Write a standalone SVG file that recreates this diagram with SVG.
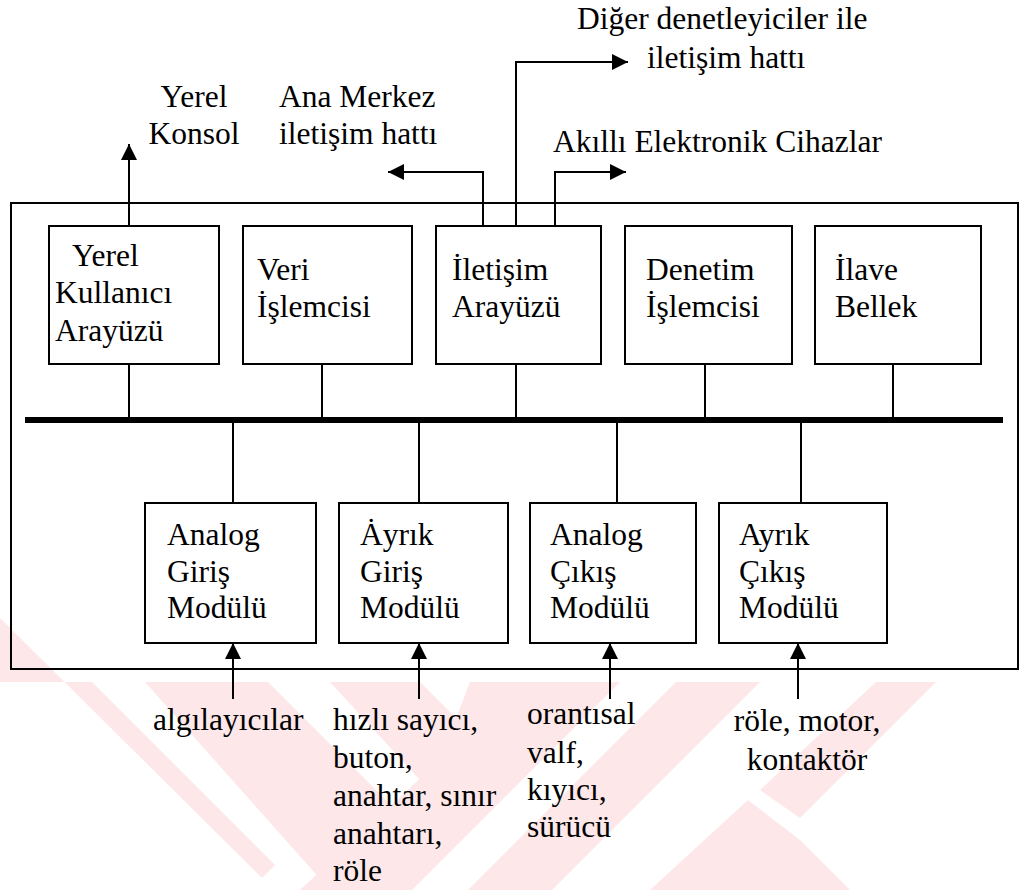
<svg xmlns="http://www.w3.org/2000/svg" width="1034" height="890" viewBox="0 0 1034 890">
  <defs>
    <marker id="arrow" viewBox="0 0 10 10" refX="10" refY="5" markerUnits="userSpaceOnUse" markerWidth="16" markerHeight="16" orient="auto">
      <path d="M0,0 L10,5 L0,10 z" fill="#000"/>
    </marker>
    <style>
      text { font-family: "Liberation Serif", "Times New Roman", serif; font-size: 31.5px; fill: #000; }
      .box { fill: none; stroke: #000; stroke-width: 2; }
      .wire { fill: none; stroke: #000; stroke-width: 2; }
      .arrow { fill: none; stroke: #000; stroke-width: 2; marker-end: url(#arrow); }
      .mark { fill: #fde7e9; }
    </style>
  </defs>
  <rect width="1034" height="890" fill="#fff"/>

  <!-- background mark -->
  <g id="watermark">
    <polygon class="mark" points="0,682 92,682 275,865 262,878 0,618"/>
    <polygon class="mark" points="145,682 268,682 420,834 390,890 330,890"/>
    <polygon class="mark" points="330,682 420,682 470,732 420,780"/>
    <polygon class="mark" points="470,682 620,682 412,890 300,890 440,760"/>
    <polygon class="mark" points="676,682 760,682 552,890 468,890"/>
    <polygon class="mark" points="876,682 936,682 800,818 760,790"/>
    <polygon class="mark" points="748,800 800,840 850,890 650,890"/>
  </g>

  <!-- enclosure of the controller -->
  <rect id="enclosure" x="11" y="203" width="1007" height="466" class="box"/>

  <g id="connectors">
    <!-- system bus -->
    <line x1="25" y1="420" x2="1003" y2="420" stroke="#000" stroke-width="6"/>
    <!-- upper modules to bus -->
    <path class="wire" d="M129,364 V420 M322,364 V420 M516,364 V420 M705,364 V420 M893,364 V420"/>
    <!-- bus to I/O modules -->
    <path class="wire" d="M233,420 V503 M419,420 V503 M617,420 V503 M801,420 V503"/>
    <!-- external links -->
    <path class="arrow" d="M129,226 V144"/>
    <path class="arrow" d="M483,226 V172 H388"/>
    <path class="arrow" d="M516,226 V62 H628"/>
    <path class="arrow" d="M555,226 V172 H626"/>
    <!-- field devices into I/O modules -->
    <path class="arrow" d="M233,699 V643"/>
    <path class="arrow" d="M419,699 V643"/>
    <path class="arrow" d="M610,699 V643"/>
    <path class="arrow" d="M798,699 V643"/>
  </g>

  <g font-family="'Liberation Serif', 'Times New Roman', serif">
  <g id="node-yerel-kullanici">
    <rect x="49" y="226" width="170" height="138" class="box"/>
    <text x="72" y="266">Yerel</text>
    <text x="55" y="303">Kullanıcı</text>
    <text x="55" y="341">Arayüzü</text>
  </g>
  <g id="node-veri-islemcisi">
    <rect x="243" y="226" width="169" height="138" class="box"/>
    <text x="257" y="280">Veri</text>
    <text x="257" y="317">İşlemcisi</text>
  </g>
  <g id="node-iletisim-arayuzu">
    <rect x="436" y="226" width="165" height="138" class="box"/>
    <text x="452" y="280">İletişim</text>
    <text x="452" y="317">Arayüzü</text>
  </g>
  <g id="node-denetim-islemcisi">
    <rect x="625" y="226" width="167" height="138" class="box"/>
    <text x="646" y="280">Denetim</text>
    <text x="646" y="317">İşlemcisi</text>
  </g>
  <g id="node-ilave-bellek">
    <rect x="815" y="226" width="166" height="138" class="box"/>
    <text x="835" y="280">İlave</text>
    <text x="835" y="317">Bellek</text>
  </g>

  <g id="node-analog-giris">
    <rect x="145" y="503" width="171" height="140" class="box"/>
    <text x="167" y="545">Analog</text>
    <text x="167" y="582">Giriş</text>
    <text x="167" y="618">Modülü</text>
  </g>
  <g id="node-ayrik-giris">
    <rect x="339" y="503" width="169" height="140" class="box"/>
    <text x="360" y="545">Ȧyrık</text>
    <text x="360" y="582">Giriş</text>
    <text x="360" y="618">Modülü</text>
  </g>
  <g id="node-analog-cikis">
    <rect x="530" y="503" width="166" height="140" class="box"/>
    <text x="550" y="545">Analog</text>
    <text x="550" y="582">Çıkış</text>
    <text x="550" y="618">Modülü</text>
  </g>
  <g id="node-ayrik-cikis">
    <rect x="719" y="503" width="168" height="140" class="box"/>
    <text x="739" y="545">Ayrık</text>
    <text x="739" y="582">Çıkış</text>
    <text x="739" y="618">Modülü</text>
  </g>

  <!-- external endpoints -->
  <g id="label-yerel-konsol">
    <text x="194" y="107" text-anchor="middle">Yerel</text>
    <text x="194" y="144" text-anchor="middle">Konsol</text>
  </g>
  <g id="label-ana-merkez">
    <text x="279" y="107">Ana Merkez</text>
    <text x="279" y="144">iletişim hattı</text>
  </g>
  <g id="label-diger">
    <text x="577" y="29">Diğer denetleyiciler ile</text>
    <text x="647" y="68">iletişim hattı</text>
  </g>
  <g id="label-akilli">
    <text x="553" y="152">Akıllı Elektronik Cihazlar</text>
  </g>

  <!-- field devices -->
  <g id="label-algilayicilar">
    <text x="153" y="730">algılayıcılar</text>
  </g>
  <g id="label-ayrik-giris-cihazlari">
    <text x="333" y="730">hızlı sayıcı,</text>
    <text x="333" y="768">buton,</text>
    <text x="333" y="806">anahtar, sınır</text>
    <text x="333" y="844">anahtarı,</text>
    <text x="333" y="881">röle</text>
  </g>
  <g id="label-analog-cikis-cihazlari">
    <text x="527" y="724">orantısal</text>
    <text x="527" y="763">valf,</text>
    <text x="527" y="800">kıyıcı,</text>
    <text x="527" y="837">sürücü</text>
  </g>
  <g id="label-ayrik-cikis-cihazlari">
    <text x="807" y="731" text-anchor="middle">röle, motor,</text>
    <text x="807" y="770" text-anchor="middle">kontaktör</text>
  </g>
  </g>
</svg>
